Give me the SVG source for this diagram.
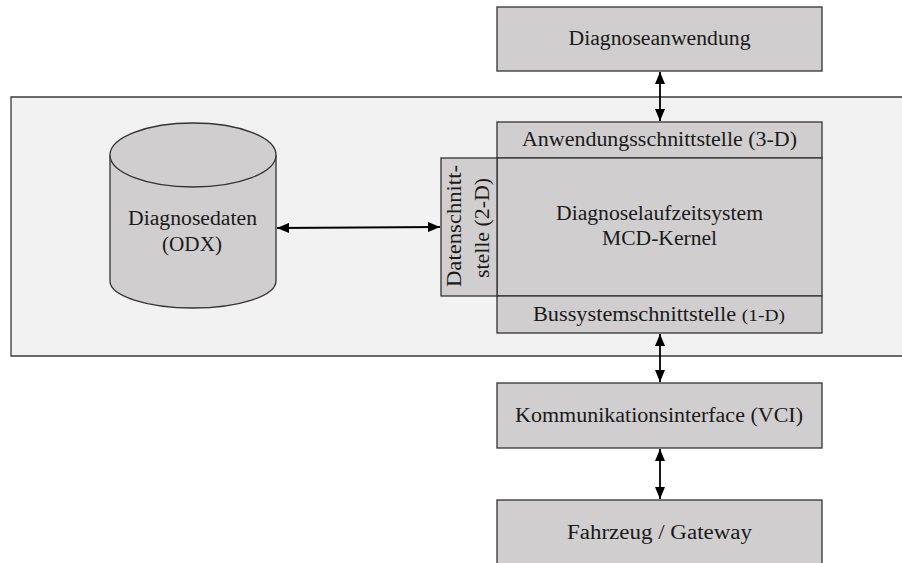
<svg xmlns="http://www.w3.org/2000/svg" width="902" height="563" viewBox="0 0 902 563">
  <defs>
    <style>
      .box { fill: #d0cece; stroke: #333333; stroke-width: 1.3; }
      .frame { fill: #f2f2f2; stroke: #3a3a3a; stroke-width: 1.3; }
      .lbl { font-family: "Liberation Serif", "Times New Roman", serif; font-size: 20px; fill: #1a1a1a; text-anchor: middle; }
      .small { font-size: 17.5px; }
      .link { stroke: #000000; stroke-width: 1.8; fill: none; marker-start: url(#tip); marker-end: url(#tip); }
    </style>
    <marker id="tip" viewBox="0 0 12 10" refX="12" refY="5" markerWidth="12" markerHeight="10" markerUnits="userSpaceOnUse" orient="auto-start-reverse">
      <path d="M0,0 L12,5 L0,10 z" fill="#000000"/>
    </marker>
  </defs>

  <!-- background frame of the diagnostic tester -->
  <g id="tester-frame">
    <path class="frame" d="M904,97 L11,97 L11,356 L904,356"/>
  </g>

  <g id="diagnoseanwendung">
    <rect class="box" x="497" y="7" width="325" height="64"/>
    <text class="lbl" x="659.5" y="45" textLength="182" lengthAdjust="spacingAndGlyphs">Diagnoseanwendung</text>
  </g>

  <g id="anwendungsschnittstelle">
    <rect class="box" x="497" y="122" width="325" height="36"/>
    <text class="lbl" x="659.5" y="146" textLength="275" lengthAdjust="spacingAndGlyphs">Anwendungsschnittstelle (3-D)</text>
  </g>

  <g id="laufzeitsystem">
    <rect class="box" x="497" y="158" width="325" height="138"/>
    <text class="lbl" x="659.5" y="220" textLength="207" lengthAdjust="spacingAndGlyphs">Diagnoselaufzeitsystem</text>
    <text class="lbl" x="659.5" y="245" textLength="115" lengthAdjust="spacingAndGlyphs">MCD-Kernel</text>
  </g>

  <g id="bussystemschnittstelle">
    <rect class="box" x="497" y="296" width="325" height="37"/>
    <text class="lbl" x="659" y="321" textLength="252" lengthAdjust="spacingAndGlyphs">Bussystemschnittstelle <tspan class="small">(1-D)</tspan></text>
  </g>

  <g id="datenschnittstelle">
    <rect class="box" x="441" y="158" width="56" height="138"/>
    <text class="lbl" transform="translate(461,226) rotate(-90)" x="0" y="0" textLength="122" lengthAdjust="spacingAndGlyphs">Datenschnitt-</text>
    <text class="lbl" transform="translate(489,228) rotate(-90)" x="0" y="0" textLength="100" lengthAdjust="spacingAndGlyphs">stelle (2-D)</text>
  </g>

  <g id="diagnosedaten">
    <path class="box" d="M110,155 L110,281 A83,27 0 0 0 276,281 L276,155"/>
    <ellipse class="box" cx="193" cy="155" rx="83" ry="32"/>
    <text class="lbl" x="192.5" y="225" textLength="129" lengthAdjust="spacingAndGlyphs">Diagnosedaten</text>
    <text class="lbl" x="192" y="251" textLength="60" lengthAdjust="spacingAndGlyphs">(ODX)</text>
  </g>

  <g id="kommunikationsinterface">
    <rect class="box" x="497" y="383" width="325" height="65"/>
    <text class="lbl" x="659" y="422" textLength="288" lengthAdjust="spacingAndGlyphs">Kommunikationsinterface (VCI)</text>
  </g>

  <g id="fahrzeug">
    <rect class="box" x="497" y="500" width="325" height="70"/>
    <text class="lbl" x="659.5" y="539" textLength="185" lengthAdjust="spacingAndGlyphs">Fahrzeug / Gateway</text>
  </g>

  <g id="connectors">
    <line class="link" x1="660" y1="72" x2="660" y2="121"/>
    <line class="link" x1="277" y1="228" x2="440" y2="227"/>
    <line class="link" x1="660" y1="334" x2="660" y2="382"/>
    <line class="link" x1="660" y1="449" x2="660" y2="499"/>
  </g>
</svg>
